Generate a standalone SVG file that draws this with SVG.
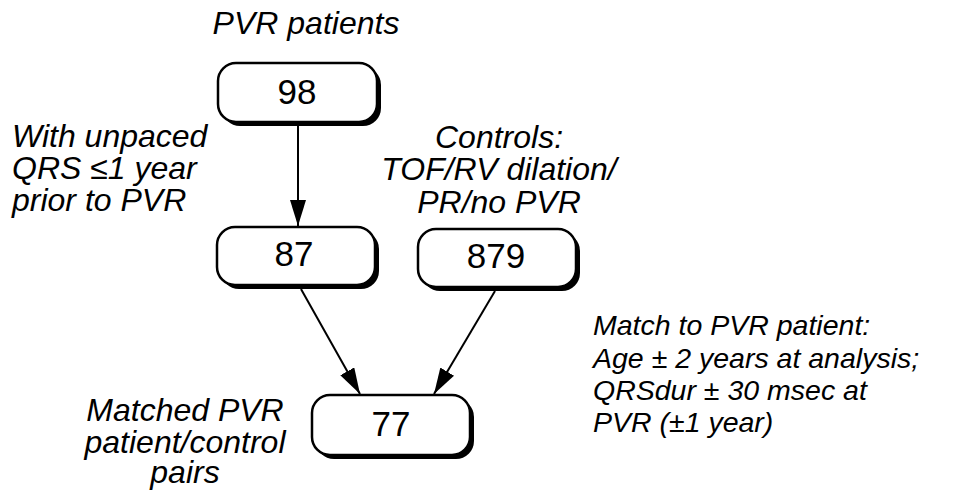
<svg xmlns="http://www.w3.org/2000/svg" width="974" height="495" viewBox="0 0 974 495">
<defs>
<style>
.t{font-family:"Liberation Sans",Arial,sans-serif;font-style:italic;font-size:32px;fill:#000}
.r{font-size:28.5px}
.n{font-family:"Liberation Sans",Arial,sans-serif;font-size:35px;fill:#000;text-anchor:middle}
.box{fill:#fff;stroke:#000;stroke-width:2.5}
.sh{fill:#000}
.c{stroke:#000;stroke-width:2;fill:none}
</style>
<marker id="ah2" viewBox="0 0 26 16" refX="26" refY="8" markerWidth="26" markerHeight="16" orient="auto" markerUnits="userSpaceOnUse">
<path d="M0,0 L26,8 L0,16 Z" fill="#000"/>
</marker>
</defs>
<rect width="974" height="495" fill="#fff"/>
<text class="t" x="306" y="34" text-anchor="middle" font-size="32.5">PVR patients</text>
<text class="t" x="12" y="147">With unpaced</text>
<text class="t" x="12" y="179">QRS ≤1 year</text>
<text class="t" x="12" y="211">prior to PVR</text>
<text class="t" x="499" y="148" text-anchor="middle">Controls:</text>
<text class="t" x="499" y="180" text-anchor="middle" font-size="31">TOF/RV dilation/</text>
<text class="t" x="499" y="213" text-anchor="middle">PR/no PVR</text>
<text class="t r" x="593" y="335">Match to PVR patient:</text>
<text class="t r" x="593" y="368">Age ± 2 years at analysis;</text>
<text class="t r" x="593" y="400">QRSdur ± 30 msec at</text>
<text class="t r" x="593" y="432">PVR (±1 year)</text>
<text class="t" x="185" y="421" text-anchor="middle">Matched PVR</text>
<text class="t" x="185" y="453" text-anchor="middle">patient/control</text>
<text class="t" x="185" y="483" text-anchor="middle">pairs</text>
<g id="connectors">
<line class="c" x1="298" y1="124" x2="298" y2="226" marker-end="url(#ah2)"/>
<line class="c" x1="301" y1="289" x2="360" y2="394" marker-end="url(#ah2)"/>
<line class="c" x1="495" y1="291" x2="434" y2="394" marker-end="url(#ah2)"/>
</g>
<g id="n98">
<rect class="sh" x="222" y="67" width="159" height="59" rx="18"/>
<rect class="box" x="218" y="63" width="159" height="59" rx="18"/>
<text class="n" x="297" y="104">98</text>
</g>
<g id="n87">
<rect class="sh" x="221" y="231" width="158" height="58" rx="18"/>
<rect class="box" x="217" y="227" width="158" height="58" rx="18"/>
<text class="n" x="294" y="266">87</text>
</g>
<g id="n879">
<rect class="sh" x="422" y="233" width="158" height="58" rx="18"/>
<rect class="box" x="418" y="229" width="158" height="58" rx="18"/>
<text class="n" x="496" y="268">879</text>
</g>
<g id="n77">
<rect class="sh" x="316" y="399" width="158" height="60" rx="18"/>
<rect class="box" x="312" y="395" width="158" height="60" rx="18"/>
<text class="n" x="391" y="436">77</text>
</g>
</svg>
